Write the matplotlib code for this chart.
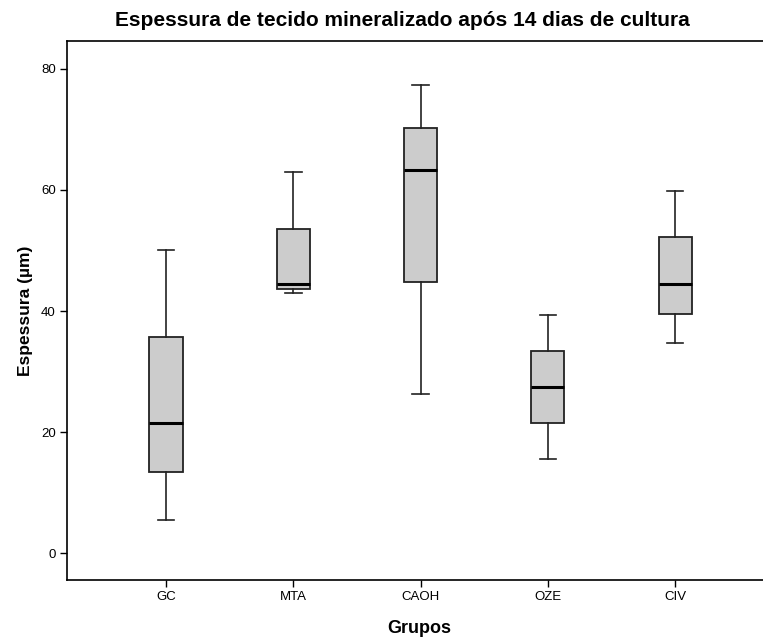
import matplotlib
matplotlib.use("Agg")
import matplotlib.pyplot as plt

plt.rcParams["font.family"] = ["Liberation Sans", "DejaVu Sans"]

# Five-number summaries (whisker low, Q1, median, Q3, whisker high)
groups = ["GC", "MTA", "CAOH", "OZE", "CIV"]
whislo = [5.5, 43.0, 26.3, 15.5, 34.7]
q1 = [13.5, 43.7, 44.8, 21.5, 39.6]
med = [21.5, 44.4, 63.3, 27.4, 44.5]
q3 = [35.7, 53.6, 70.3, 33.4, 52.2]
whishi = [50.1, 62.9, 77.4, 39.3, 59.9]
yticks = [0, 20, 40, 60, 80]

stats = [
    {"label": g, "whislo": lo, "q1": a, "med": m, "q3": b, "whishi": hi, "fliers": []}
    for g, lo, a, m, b, hi in zip(groups, whislo, q1, med, q3, whishi)
]

fig = plt.figure(figsize=(7.63, 6.39), dpi=100)
ax = fig.add_axes([67 / 763, 1 - 580 / 639, (771 - 67) / 763, (580 - 41) / 639])

ax.bxp(stats, positions=range(1, 6), widths=0.26, capwidths=0.13,
       patch_artist=True, showfliers=False,
       boxprops=dict(facecolor="#cccccc", edgecolor="#222222", linewidth=1.3),
       medianprops=dict(color="black", linewidth=2.2),
       whiskerprops=dict(color="#222222", linewidth=1.2),
       capprops=dict(color="#222222", linewidth=1.2))

ax.set_xlim(0.222, 5.754)
ax.set_ylim(-4.4, 84.6)
ax.set_yticks(yticks)
ax.set_xticks(range(1, 6))
ax.set_xticklabels(groups)
ax.tick_params(labelsize=9.5, length=5, width=1, direction="out", pad=3)
for s in ax.spines.values():
    s.set_linewidth(1.2)

ax.set_xlabel("Grupos", fontsize=13, fontweight="bold", labelpad=12)
ax.set_ylabel("Espessura (µm)", fontsize=12.5, fontweight="bold", labelpad=6)
fig.text(402 / 763, 1 - 21 / 639, "Espessura de tecido mineralizado após 14 dias de cultura",
         ha="center", va="center", fontsize=15, fontweight="bold")

fig.savefig("out.png", dpi=100)
